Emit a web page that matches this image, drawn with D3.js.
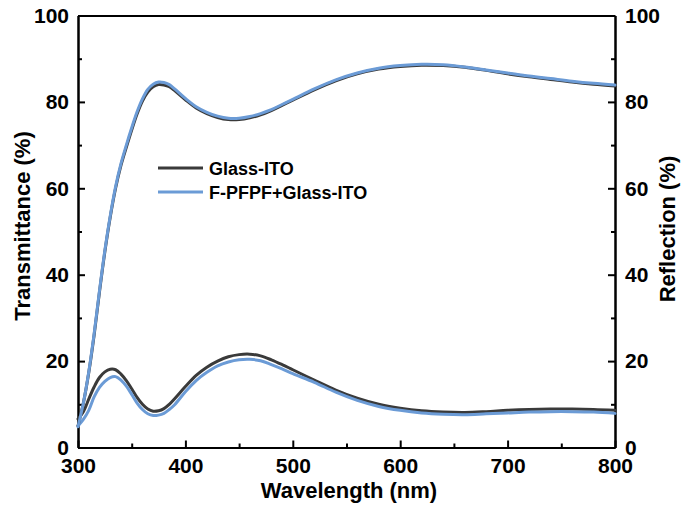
<!DOCTYPE html>
<html>
<head>
<meta charset="utf-8">
<script src="https://cdn.jsdelivr.net/npm/d3@7"></script>
<style>
  html, body { margin: 0; padding: 0; background: #fff; }
  svg { display: block; font-family: Arial, "Liberation Sans", sans-serif; }
</style>
</head>
<body>
<svg id="chart" width="681" height="513"></svg>
<script>
// ---------------- data ----------------
const wavelengths = [300,305,310,315,320,325,330,335,340,345,350,355,360,365,370,375,380,385,390,400,410,420,430,440,450,460,470,480,490,500,520,540,560,580,600,620,640,660,680,700,720,740,760,780,800];

const transGlassITO = [5.0,10.3,17.3,26.0,36.0,45.3,53.3,60.0,65.3,69.5,73.5,77.2,80.2,82.3,83.5,84.0,83.9,83.5,82.6,80.5,78.6,77.3,76.4,75.9,75.9,76.3,77.0,78.0,79.2,80.4,82.8,84.9,86.5,87.6,88.2,88.5,88.4,88.0,87.3,86.5,85.8,85.2,84.6,84.1,83.7];
const transFPFPF = [4.8,10.3,17.5,26.3,36.3,45.6,53.6,60.4,65.7,70.0,74.0,77.7,80.7,82.9,84.1,84.6,84.5,84.0,83.0,80.8,78.9,77.6,76.7,76.2,76.2,76.6,77.3,78.2,79.4,80.6,83.0,85.1,86.7,87.8,88.4,88.7,88.6,88.1,87.4,86.7,86.0,85.4,84.8,84.3,83.9];

const reflGlassITO = [6.6,8.3,11.2,14.0,16.2,17.5,18.1,18.0,17.0,15.5,13.6,11.6,10.0,8.9,8.4,8.5,9.0,10.0,11.3,14.1,16.7,18.6,20.0,21.0,21.5,21.6,21.2,20.3,19.2,18.0,15.6,13.3,11.4,10.0,9.1,8.5,8.2,8.1,8.3,8.6,8.8,8.9,8.9,8.8,8.6];
const reflFPFPF = [5.0,6.5,8.6,11.7,13.9,15.3,16.2,16.4,15.6,14.2,12.3,10.3,8.8,7.8,7.4,7.5,7.9,8.8,9.9,12.9,15.5,17.4,18.9,19.8,20.3,20.4,20.1,19.2,18.2,17.1,15.1,12.8,10.9,9.5,8.6,8.0,7.7,7.6,7.8,8.0,8.2,8.3,8.3,8.2,7.9];

const seriesNames = ["Glass-ITO", "F-PFPF+Glass-ITO"];
const seriesColors = ["#3a3a3a", "#6b9bd6"];

const xMajorTicks = [300,400,500,600,700,800];
const xMinorTicks = [350,450,550,650,750];
const yMajorTicks = [0,20,40,60,80,100];
const yMinorTicks = [10,30,50,70,90];

const xTitle = "Wavelength (nm)";
const yLeftTitle = "Transmittance (%)";
const yRightTitle = "Reflection (%)";

// ---------------- layout ----------------
const svg = d3.select("#chart");
const L = 78, R = 615, T = 15.5, B = 447.5;

const x = d3.scaleLinear().domain([300, 800]).range([L, R]);
const yT = d3.scaleLinear().domain([0, 100]).range([B, T]);
const yR = d3.scaleLinear().domain([0, 100]).range([B, T]);

const tickFont = 21;

function styleAxis(g) {
  g.selectAll("path.domain").attr("stroke", "#000").attr("stroke-width", 2);
  g.selectAll(".tick line").attr("stroke", "#000").attr("stroke-width", 2);
  g.selectAll(".tick text").attr("fill", "#000").attr("font-size", tickFont)
    .attr("font-weight", "bold").attr("font-family", 'Arial, "Liberation Sans", sans-serif');
}

// bottom
svg.append("g").attr("transform", `translate(0,${B})`)
  .call(d3.axisBottom(x).tickValues(xMinorTicks).tickSizeInner(-4).tickSizeOuter(0).tickFormat(""))
  .call(styleAxis);
svg.append("g").attr("transform", `translate(0,${B})`)
  .call(d3.axisBottom(x).tickValues(xMajorTicks).tickSizeInner(-7).tickSizeOuter(0).tickPadding(11).tickFormat(d3.format("d")))
  .call(styleAxis);
// top
svg.append("g").attr("transform", `translate(0,${T})`)
  .call(d3.axisTop(x).tickValues([]).tickSizeOuter(0))
  .call(styleAxis);
// left
svg.append("g").attr("transform", `translate(${L},0)`)
  .call(d3.axisLeft(yT).tickValues(yMinorTicks).tickSizeInner(-4).tickSizeOuter(0).tickFormat(""))
  .call(styleAxis);
svg.append("g").attr("transform", `translate(${L},0)`)
  .call(d3.axisLeft(yT).tickValues(yMajorTicks).tickSizeInner(-7).tickSizeOuter(0).tickPadding(9).tickFormat(d3.format("d")))
  .call(styleAxis);
// right
svg.append("g").attr("transform", `translate(${R},0)`)
  .call(d3.axisRight(yR).tickValues(yMinorTicks).tickSizeInner(-4).tickSizeOuter(0).tickFormat(""))
  .call(styleAxis);
svg.append("g").attr("transform", `translate(${R},0)`)
  .call(d3.axisRight(yR).tickValues(yMajorTicks).tickSizeInner(-7).tickSizeOuter(0).tickPadding(10).tickFormat(d3.format("d")))
  .call(styleAxis);

// ---------------- lines ----------------
const plot = svg.append("g");
function drawLine(values, yScale, color) {
  const line = d3.line()
    .x((d, i) => x(wavelengths[i]))
    .y(d => yScale(d))
    .curve(d3.curveCatmullRom.alpha(0.5));
  plot.append("path").datum(values)
    .attr("d", line).attr("fill", "none")
    .attr("stroke", color).attr("stroke-width", 3)
    .attr("stroke-linejoin", "round").attr("stroke-linecap", "round");
}
drawLine(reflGlassITO, yR, seriesColors[0]);
drawLine(reflFPFPF, yR, seriesColors[1]);
drawLine(transGlassITO, yT, seriesColors[0]);
drawLine(transFPFPF, yT, seriesColors[1]);

// ---------------- legend ----------------
const legend = svg.append("g");
seriesNames.forEach((name, i) => {
  const ly = 168 + i * 24;
  legend.append("line").attr("x1", 158).attr("x2", 203).attr("y1", ly).attr("y2", ly)
    .attr("stroke", seriesColors[i]).attr("stroke-width", 3);
  legend.append("text").attr("x", 209).attr("y", ly + 6.5)
    .attr("font-size", 18).attr("font-weight", "bold").attr("fill", "#000")
    .text(name);
});

// ---------------- titles ----------------
svg.append("text").attr("x", 349).attr("y", 498).attr("text-anchor", "middle")
  .attr("font-size", 22).attr("font-weight", "bold").text(xTitle);
svg.append("text").attr("transform", "translate(30,226) rotate(-90)").attr("text-anchor", "middle")
  .attr("font-size", 22).attr("font-weight", "bold").text(yLeftTitle);
svg.append("text").attr("transform", "translate(675,229) rotate(-90)").attr("text-anchor", "middle")
  .attr("font-size", 22).attr("font-weight", "bold").text(yRightTitle);
</script>
</body>
</html>
